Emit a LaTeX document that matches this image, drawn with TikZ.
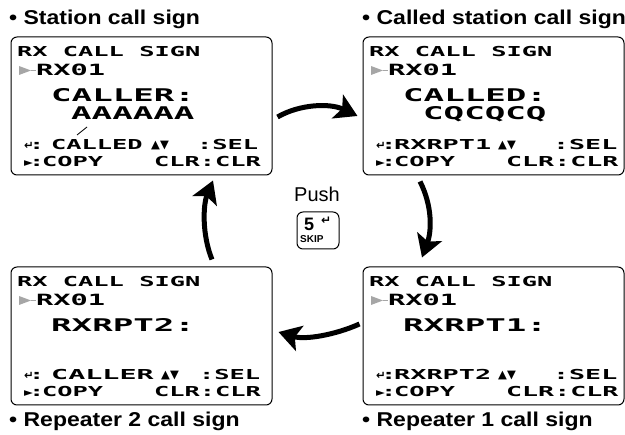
\documentclass[tikz,border=0pt]{standalone}
\usepackage{fontspec}
\usepackage{graphicx}
\setmainfont{Liberation Sans}
\newfontfamily\lcdfont[FakeStretch=1.85]{DejaVu Sans Mono}
\newfontfamily\lcdfontL[FakeStretch=1.95]{DejaVu Sans Mono}
\newfontfamily\symfont{DejaVu Sans}
\newfontfamily\titlefont[FakeStretch=1.15]{Liberation Sans}
\usetikzlibrary{arrows.meta}
\newcommand\lcdS{\lcdfont\bfseries\fontsize{13.7}{16}\selectfont}
\newcommand\lcdM{\lcdfont\bfseries\fontsize{15.5}{17}\selectfont}
\newcommand\lcdL{\lcdfontL\bfseries\fontsize{17.5}{20}\selectfont}
\newcommand\symS{\symfont\bfseries\fontsize{11.5}{12}\selectfont}
\tikzset{
  screen/.style={draw, line width=1pt, rounded corners=6pt, minimum width=261pt, minimum height=138pt, inner sep=0pt},
  lcdtxt/.style={inner sep=0pt, anchor=base west},
  title/.style={inner sep=0pt, anchor=base west, font=\titlefont\bfseries\fontsize{20}{22}\selectfont},
  bigarrow/.style={line width=5pt, -{Stealth[length=22pt,width=26pt,inset=5pt]}},
  keybox/.style={draw, line width=1pt, rounded corners=6pt, minimum width=42pt, minimum height=37pt, inner sep=0pt}
}
% scale factors set before each screen
\newcommand\midsc{1}
\newcommand\rsc{1}
% #1 name, #2 x0, #3 y0, #4 row3, #5 row4, #6 row5 middle, #7 mid x, #8 arrows x, #9 sel x
\newcommand\lcdscreen[9]{%
  \node[screen] (#1) at (#2+130.5,#3+69) {};
  \begin{scope}[shift={(#2,#3)}]
    \node[lcdtxt, font=\lcdS] (#1-r1) at (6,20) {RX CALL SIGN};
    \fill[gray!70] (8,29) -- (8,38) -- (20,33.5) -- cycle;
    \draw[gray!70, line width=0.8pt] (20,33.5) -- (25,33.5);
    \node[lcdtxt, font=\lcdM] (#1-r2) at (25,39) {RX01};
    \node[lcdtxt, font=\lcdL] (#1-r3) at (40,65) {#4};
    \node[lcdtxt, font=\lcdL] (#1-r4) at (60,83) {#5};
    \node[lcdtxt, font=\symS] (#1-ent) at (13,113) {↵};
    \node[lcdtxt, font=\lcdS] (#1-c5) at (18,113) {:};
    \node[lcdtxt, font=\lcdS] (#1-r5) at (#7,113) {\scalebox{\midsc}[1]{#6}};
    \node[lcdtxt, font=\symS] (#1-ud) at (#8,112) {▲▼};
    \node[lcdtxt, font=\lcdS] (#1-sel) at (#9,113) {\scalebox{\rsc}[1]{:SEL}};
    \node[lcdtxt, font=\symS] (#1-pl) at (13,130) {►};
    \node[lcdtxt, font=\lcdS] (#1-c6) at (18,130) {:};
    \node[lcdtxt, font=\lcdS] (#1-copy) at (31,130) {COPY};
    \node[lcdtxt, font=\lcdS] (#1-clr) at (143,130) {\scalebox{\rsc}[1]{CLR:CLR}};
  \end{scope}%
}
\begin{document}
\begin{tikzpicture}[x=1pt,y=-1pt]
\useasboundingbox (0,0) rectangle (625,435);
\renewcommand\midsc{1}\renewcommand\rsc{1}
\lcdscreen{s1}{11}{37}{CALLER:}{AAAAAA}{CALLED}{40}{140}{186}
\renewcommand\midsc{1.12}\renewcommand\rsc{1}
\lcdscreen{s3}{11}{267}{RXRPT2:}{}{CALLER}{40}{150}{188}
\renewcommand\midsc{1.06}\renewcommand\rsc{1.05}
\lcdscreen{s2}{363}{37}{CALLED:}{CQCQCQ}{RXRPT1}{31}{135}{190}
\lcdscreen{s4}{363}{267}{RXRPT1:}{}{RXRPT2}{31}{135}{190}
\draw[line width=0.8pt] (77,135) -- (87,127);
\node[title] (t1) at (9,25) {• Station call sign};
\node[title] (t2) at (362,25) {• Called station call sign};
\node[title] (t3) at (9,427) {• Repeater 2 call sign};
\node[title] (t4) at (362,427) {• Repeater 1 call sign};
\node[inner sep=0pt, anchor=base, font=\fontsize{20}{22}\selectfont] (push) at (317,202) {Push};
\node[keybox] (key) at (318,230.5) {};
\node[lcdtxt, font=\bfseries\fontsize{18}{20}\selectfont] (k5) at (304,231) {5};
\node[lcdtxt, font=\symfont\bfseries\fontsize{12}{12}\selectfont] (kent) at (321,225) {↵};
\node[lcdtxt, font=\bfseries\fontsize{10}{11}\selectfont] (kskip) at (300,243) {SKIP};
\draw[bigarrow] ([shift={(5,11)}]s1.east) .. controls (300,104) and (330,103) .. ([shift={(-5,10)}]s2.west);
\draw[bigarrow] ([shift={(-73.5,6)}]s2.south) .. controls (432,205) and (432,230) .. ([shift={(-71.5,-9)}]s4.north);
\draw[bigarrow] ([shift={(-3,-12)}]s4.west) .. controls (335,335) and (305,340) .. ([shift={(6,-4)}]s3.east);
\draw[bigarrow] ([shift={(70.5,-7)}]s3.north) .. controls (202,235) and (203,205) .. ([shift={(71.5,5)}]s1.south);
\end{tikzpicture}
\end{document}
